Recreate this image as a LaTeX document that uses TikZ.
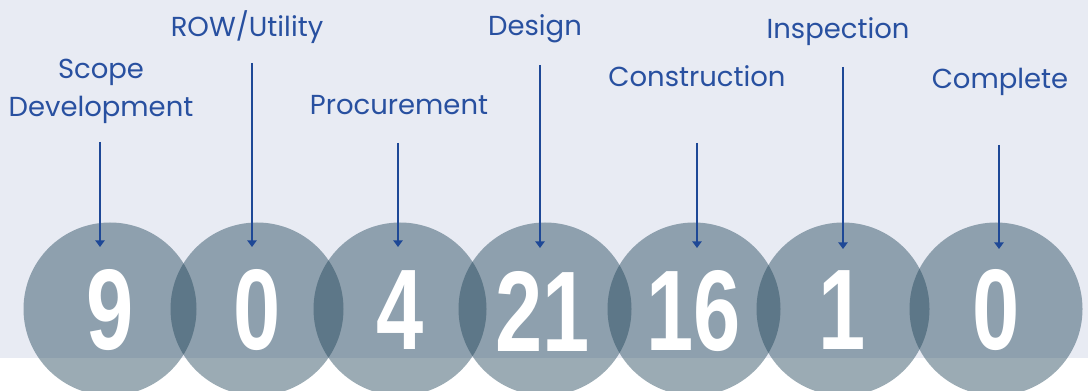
\documentclass[tikz,border=0pt]{standalone}
\usepackage{fontspec}
\usetikzlibrary{arrows.meta}
\newfontfamily\labfont{Poppins}
\newfontfamily\numfont{Liberation Sans}[FakeStretch=0.74]
\definecolor{bgblue}{RGB}{232,235,243}
\definecolor{labblue}{RGB}{40,80,160}
\definecolor{arrblue}{RGB}{30,72,150}
\definecolor{discgray}{RGB}{34,70,90}
\tikzset{
  disc/.style={circle, fill=discgray, fill opacity=0.45, draw=none, minimum size=129.75pt, inner sep=0pt},
  num/.style={inner sep=0pt, text=white, font=\numfont\bfseries\fontsize{86}{90}\selectfont},
  lab/.style={inner sep=0pt, text=labblue, align=center, font=\labfont\fontsize{20.6}{28.5}\selectfont},
  arr/.style={draw=arrblue, line width=1.5pt, -{Triangle[width=7pt,length=5pt]}}
}
\begin{document}
\begin{tikzpicture}[x=0.75pt,y=0.75pt,yscale=-1]
\useasboundingbox (0,0) rectangle (1088,391);
\clip (0,0) rectangle (1088,391);
\fill [bgblue] (0,0) rectangle (1088,358);
\fill [white] (0,358) rectangle (1088,391);
% discs
\node [disc] (c1) at (110,309) {};
\node [disc] (c2) at (257,309) {};
\node [disc] (c3) at (400,309) {};
\node [disc] (c4) at (545,309) {};
\node [disc] (c5) at (694,309) {};
\node [disc] (c6) at (843,309) {};
\node [disc] (c7) at (996,309) {};
% counts
\node [num] (n1) at (110,310) {9};
\node [num] (n2) at (257,310) {0};
\node [num] (n3) at (400,310) {4};
\node [num] (n4) at (543,311) {21};
\node [num] (n5) at (694,311) {16};
\node [num] (n6) at (842,310) {1};
\node [num] (n7) at (996,310) {0};
% stages
\node [lab] (lscope) at (101,91) {Scope\\Development};
\node [lab, anchor=base] (lrow) at (247,37) {ROW/Utility};
\node [lab, anchor=base] (lproc) at (399,115) {Procurement};
\node [lab, anchor=base] (ldes) at (535,36) {Design};
\node [lab, anchor=base] (lcons) at (697,87) {Construction};
\node [lab, anchor=base] (linsp) at (838,39) {Inspection};
\node [lab, anchor=base] (lcomp) at (1000,89) {Complete};
% pointers
\coordinate (a1) at (100,142); \coordinate (b1) at (100,247);
\coordinate (a2) at (252,63);  \coordinate (b2) at (252,247);
\coordinate (a3) at (398,143); \coordinate (b3) at (398,247);
\coordinate (a4) at (540,65);  \coordinate (b4) at (540,248);
\coordinate (a5) at (697,143); \coordinate (b5) at (697,248);
\coordinate (a6) at (843,67);  \coordinate (b6) at (843,249);
\coordinate (a7) at (999,145); \coordinate (b7) at (999,249);
\draw [arr] (a1) -- (b1);
\draw [arr] (a2) -- (b2);
\draw [arr] (a3) -- (b3);
\draw [arr] (a4) -- (b4);
\draw [arr] (a5) -- (b5);
\draw [arr] (a6) -- (b6);
\draw [arr] (a7) -- (b7);
\end{tikzpicture}
\end{document}
